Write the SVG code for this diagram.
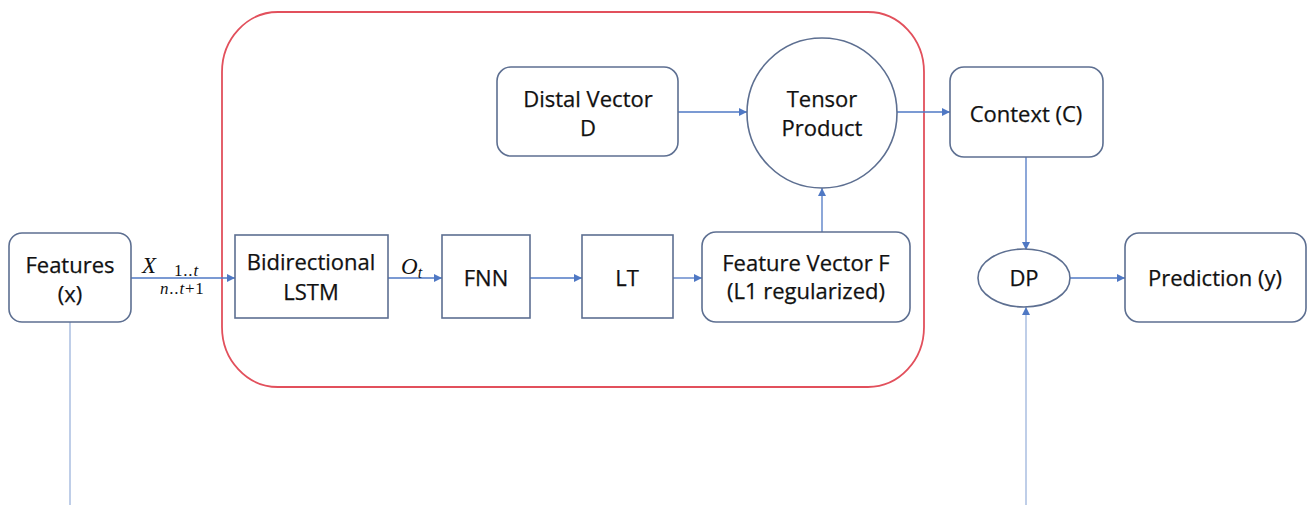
<svg xmlns="http://www.w3.org/2000/svg" width="1307" height="505" viewBox="0 0 1307 505">
  <style>
    .box { fill: #ffffff; stroke: #5d6f91; stroke-width: 1.6; }
    .lbl { font-family: "Open Sans", "Liberation Sans", sans-serif; font-size: 22px; fill: #111111; stroke: #111111; stroke-width: 0.25; text-anchor: middle; }
    .math { font-family: "Liberation Serif", "DejaVu Serif", serif; fill: #111111; }
    .conn { fill: none; stroke: #4f78c4; stroke-width: 1.3; }
    .feed { fill: none; stroke: #9db4dc; stroke-width: 1.3; }
  </style>
  <defs>
    <marker id="arrow" viewBox="0 0 10 10" refX="10" refY="5" markerWidth="8" markerHeight="8" markerUnits="userSpaceOnUse" orient="auto">
      <path d="M0,0 L10,5 L0,10 z" fill="#4f78c4"/>
    </marker>
  </defs>

  <rect width="1307" height="505" fill="#ffffff"/>

  <!-- model block outline -->
  <rect id="model-block" x="222" y="12" width="702" height="375" rx="56" ry="60" fill="none" stroke="#e2505c" stroke-width="1.8"/>

  <!-- connectors -->
  <g id="connectors">
    <line class="conn" x1="131" y1="278" x2="235" y2="278" marker-end="url(#arrow)"/>
    <line class="conn" x1="388" y1="278" x2="442" y2="278" marker-end="url(#arrow)"/>
    <line class="conn" x1="530" y1="278" x2="582" y2="278" marker-end="url(#arrow)"/>
    <line class="conn" x1="673" y1="278" x2="702" y2="278" marker-end="url(#arrow)"/>
    <line class="conn" x1="678" y1="112" x2="747" y2="112" marker-end="url(#arrow)"/>
    <line class="conn" x1="822" y1="232" x2="822" y2="188" marker-end="url(#arrow)"/>
    <line class="conn" x1="897" y1="112" x2="950" y2="112" marker-end="url(#arrow)"/>
    <line class="conn" x1="1026" y1="157" x2="1026" y2="250" marker-end="url(#arrow)"/>
    <line class="conn" x1="1070" y1="278" x2="1125" y2="278" marker-end="url(#arrow)"/>
    <line class="feed" x1="1026" y1="505" x2="1026" y2="307" marker-end="url(#arrow)"/>
    <line class="feed" x1="70" y1="322" x2="70" y2="505"/>
    <!-- edge labels -->
    <text class="math" x="142" y="273" font-size="23" font-style="italic">X</text>
    <text class="math" x="174" y="276" font-size="17" letter-spacing="0.8">1..<tspan font-style="italic">t</tspan></text>
    <text class="math" x="160" y="294" font-size="17" letter-spacing="0.8"><tspan font-style="italic">n</tspan>..<tspan font-style="italic">t</tspan>+1</text>
    <text class="math" x="401" y="274" font-size="23" font-style="italic">O<tspan font-size="16" dy="4">t</tspan></text>
  </g>

  <g id="features">
    <rect class="box" x="9" y="233" width="122" height="89" rx="13"/>
    <text class="lbl" x="70" y="273">Features</text>
    <text class="lbl" x="70" y="302">(x)</text>
  </g>

  <g id="bilstm">
    <rect class="box" x="235" y="235" width="153" height="83"/>
    <text class="lbl" x="311" y="270">Bidirectional</text>
    <text class="lbl" x="311" y="300">LSTM</text>
  </g>

  <g id="fnn">
    <rect class="box" x="442" y="235" width="88" height="83"/>
    <text class="lbl" x="486" y="286">FNN</text>
  </g>

  <g id="lt">
    <rect class="box" x="582" y="235" width="91" height="83"/>
    <text class="lbl" x="627" y="286">LT</text>
  </g>

  <g id="feature-vector">
    <rect class="box" x="702" y="232" width="208" height="90" rx="14"/>
    <text class="lbl" x="806" y="271">Feature Vector F</text>
    <text class="lbl" x="806" y="299">(L1 regularized)</text>
  </g>

  <g id="distal-vector">
    <rect class="box" x="497" y="67" width="181" height="89" rx="14"/>
    <text class="lbl" x="588" y="107">Distal Vector</text>
    <text class="lbl" x="588" y="136">D</text>
  </g>

  <g id="tensor-product">
    <circle class="box" cx="822" cy="113" r="75"/>
    <text class="lbl" x="822" y="107">Tensor</text>
    <text class="lbl" x="822" y="136">Product</text>
  </g>

  <g id="context">
    <rect class="box" x="950" y="67" width="153" height="90" rx="14"/>
    <text class="lbl" x="1026" y="122">Context (C)</text>
  </g>

  <g id="dp">
    <ellipse class="box" cx="1024" cy="278" rx="46" ry="29"/>
    <text class="lbl" x="1024" y="286">DP</text>
  </g>

  <g id="prediction">
    <rect class="box" x="1125" y="233" width="181" height="89" rx="14"/>
    <text class="lbl" x="1215" y="286">Prediction (y)</text>
  </g>
</svg>
